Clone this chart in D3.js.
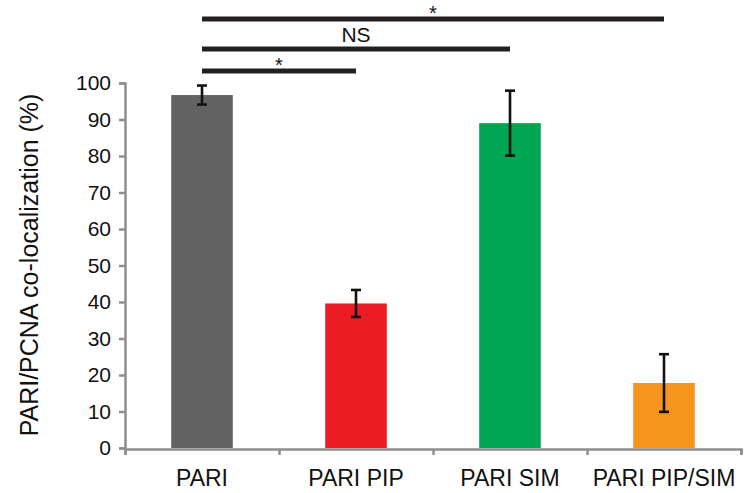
<!DOCTYPE html>
<html>
<head>
<meta charset="utf-8">
<script src="https://cdn.jsdelivr.net/npm/d3@7"></script>
<style>
  body { margin: 0; background: #fff; }
  svg { display: block; font-family: "Liberation Sans", Arial, sans-serif; }
</style>
</head>
<body>
<svg id="chart" width="749" height="493"></svg>
<script>
const categories = ['PARI', 'PARI PIP', 'PARI SIM', 'PARI PIP/SIM'];
const values = [96.7, 39.6, 89.0, 17.8];
const errors = [2.6, 3.7, 8.9, 7.9];
const barColors = ['#636363', '#ed1c24', '#00a651', '#f7941d'];
const yTicks = [0, 10, 20, 30, 40, 50, 60, 70, 80, 90, 100];

// significance brackets: from category, to category, label
const sigFrom = ['PARI', 'PARI', 'PARI'];
const sigTo = ['PARI PIP', 'PARI SIM', 'PARI PIP/SIM'];
const sigLabels = ['*', 'NS', '*'];

const svg = d3.select('svg#chart'),
  plotLeft = 125, plotRight = 741, plotTop = 83, plotBottom = 448,
  axisColor = '#8e8e8e';

const x = d3.scaleBand()
  .domain(categories)
  .range([plotLeft, plotRight])
  .paddingInner(0.6)
  .paddingOuter(0.3);

const xEdges = d3.scaleLinear()
  .domain([0, categories.length])
  .range([plotLeft, plotRight]);

const y = d3.scaleLinear()
  .domain([0, 100])
  .range([plotBottom, plotTop]);

// bars
svg.append('g').selectAll('rect').data(values)
  .enter().append('rect')
    .attr('x', (d, i) => x(categories[i]))
    .attr('width', x.bandwidth())
    .attr('y', d => y(d))
    .attr('height', d => y(0) - y(d))
    .attr('fill', (d, i) => barColors[i]);

// error bars
const cx = i => x(categories[i]) + x.bandwidth() / 2;
const err = svg.append('g')
  .attr('stroke', '#111')
  .attr('stroke-width', 2.6);
values.forEach((v, i) => {
  const hi = y(v + errors[i]), lo = y(v - errors[i]);
  err.append('line').attr('x1', cx(i)).attr('x2', cx(i)).attr('y1', hi).attr('y2', lo);
  err.append('line').attr('x1', cx(i) - 5).attr('x2', cx(i) + 5).attr('y1', hi).attr('y2', hi);
  err.append('line').attr('x1', cx(i) - 5).attr('x2', cx(i) + 5).attr('y1', lo).attr('y2', lo);
});

// y axis
const yAxis = svg.append('g')
  .attr('transform', `translate(${plotLeft},0)`)
  .call(d3.axisLeft(y).tickValues(yTicks).tickSize(6).tickPadding(8));
yAxis.selectAll('path, line').attr('stroke', axisColor).attr('stroke-width', 2.5);
yAxis.selectAll('text')
  .attr('fill', '#111')
  .style('font-size', '21px')
  .style('font-family', '"Liberation Sans", Arial, sans-serif');

// x axis (ticks at band edges)
const xAxis = svg.append('g')
  .attr('transform', `translate(0,${plotBottom + 1})`)
  .call(d3.axisBottom(xEdges).ticks(categories.length).tickSize(6).tickSizeOuter(6).tickFormat(''));
xAxis.selectAll('path, line').attr('stroke', axisColor).attr('stroke-width', 2.5);

svg.append('g').selectAll('text').data(categories)
  .enter().append('text')
    .attr('x', d => x(d) + x.bandwidth() / 2)
    .attr('y', 486)
    .attr('text-anchor', 'middle')
    .attr('fill', '#111')
    .style('font-size', '23px')
    .text(d => d);

// y label
svg.append('text')
  .attr('transform', 'translate(38,265) rotate(-90)')
  .attr('text-anchor', 'middle')
  .attr('fill', '#111')
  .style('font-size', '25px')
  .text('PARI/PCNA co-localization (%)');

// significance brackets
const sigY = [71, 49, 19];
const sig = svg.append('g');
sigLabels.forEach((lab, i) => {
  const x1 = x(sigFrom[i]) + x.bandwidth() / 2,
    x2 = x(sigTo[i]) + x.bandwidth() / 2;
  sig.append('line')
    .attr('x1', x1).attr('x2', x2)
    .attr('y1', sigY[i]).attr('y2', sigY[i])
    .attr('stroke', '#231f20')
    .attr('stroke-width', 5);
  sig.append('text')
    .attr('x', (x1 + x2) / 2)
    .attr('y', lab === '*' ? sigY[i] + 1 : sigY[i] - 7)
    .attr('text-anchor', 'middle')
    .attr('fill', '#111')
    .style('font-size', lab === '*' ? '20px' : '21px')
    .text(lab);
});
</script>
</body>
</html>
